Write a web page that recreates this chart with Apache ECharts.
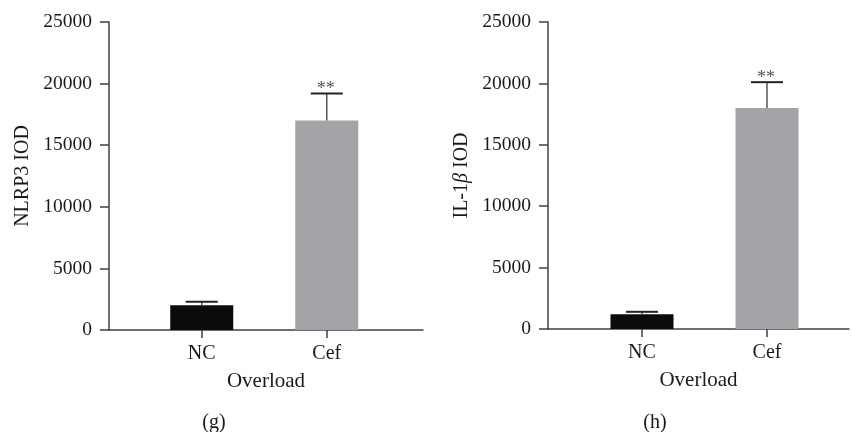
<!DOCTYPE html>
<html>
<head>
<meta charset="utf-8">
<script src="https://cdn.jsdelivr.net/npm/echarts@6/dist/echarts.min.js"></script>
<style>html,body{margin:0;padding:0;background:#fff}#c{width:852px;height:432px}</style>
</head>
<body>
<div id="c"></div>
<script>
const categories = ['NC', 'Cef'];
const nlrp3Mean = [2000, 17000];
const nlrp3ErrTop = [2300, 19200];
const il1bMean = [1200, 18000];
const il1bErrTop = [1400, 20100];
const significance = ['', '**'];
const yMin = 0, yMax = 25000, yStep = 5000;
const barColors = ['#0b0b0b', '#a4a3a7'];
const panelCaptions = ['(g)', '(h)'];

const FONT = 'Liberation Serif';
const chart = echarts.init(document.getElementById('c'), null, {renderer: 'canvas'});
const catIdx = categories.map((_, i) => i);

function xAxisFor(gi, min, max) {
  return {
    type: 'value', gridIndex: gi, min: min, max: max,
    name: 'Overload', nameLocation: 'middle', nameGap: 41,
    nameTextStyle: {fontFamily: FONT, fontSize: 21, color: '#1a1a1a'},
    axisLine: {show: true, onZero: false, lineStyle: {color: '#404040', width: 1.5}},
    axisTick: {show: true, length: 8, customValues: catIdx, lineStyle: {color: '#404040', width: 1.5}},
    axisLabel: {show: true, customValues: catIdx, margin: 14, fontFamily: FONT, fontSize: 20, color: '#1a1a1a',
      formatter: v => categories[Math.round(v)] || ''},
    splitLine: {show: false}
  };
}
function yAxisFor(gi, name) {
  return {
    type: 'value', gridIndex: gi, min: yMin, max: yMax, interval: yStep,
    name: name, nameLocation: 'middle', nameGap: 76,
    nameTextStyle: {fontFamily: FONT, fontSize: 20, color: '#1a1a1a',
      rich: {a: {fontFamily: FONT, fontSize: 20, color: '#1a1a1a'},
             b: {fontFamily: FONT, fontSize: 20, fontStyle: 'italic', color: '#1a1a1a'}}},
    axisLine: {show: true, onZero: false, lineStyle: {color: '#404040', width: 1.5}},
    axisTick: {show: true, length: 9, lineStyle: {color: '#404040', width: 1.5}},
    axisLabel: {margin: 17, fontFamily: FONT, fontSize: 19.5, color: '#1a1a1a', formatter: v => String(v)},
    splitLine: {show: false}
  };
}
function barSeries(gi, means) {
  return {
    type: 'bar', xAxisIndex: gi, yAxisIndex: gi, barWidth: 63, silent: true,
    data: means.map((v, i) => ({value: [i, v], itemStyle: {color: barColors[i]}}))
  };
}
function errSeries(gi, means, tops) {
  return {
    type: 'custom', xAxisIndex: gi, yAxisIndex: gi, silent: true, z: 5,
    data: means.map((v, i) => [i, v, tops[i]]),
    renderItem: function (params, api) {
      const base = api.coord([api.value(0), api.value(1)]);
      const top = api.coord([api.value(0), api.value(2)]);
      const half = 16;
      const children = [
        {type: 'line', shape: {x1: base[0], y1: base[1], x2: top[0], y2: top[1]}, style: {stroke: '#555', lineWidth: 1.5}},
        {type: 'line', shape: {x1: top[0] - half, y1: top[1], x2: top[0] + half, y2: top[1]}, style: {stroke: '#222', lineWidth: 2}}
      ];
      const s = significance[params.dataIndex];
      if (s) {
        children.push({type: 'text', x: top[0] - 1, y: top[1] + 5,
          style: {text: s, fontFamily: FONT, fontSize: 18, fill: '#555', align: 'center', verticalAlign: 'bottom'}});
      }
      return {type: 'group', children: children};
    }
  };
}

chart.setOption({
  animation: false,
  backgroundColor: '#ffffff',
  grid: [
    {left: 109, right: 429, top: 22, bottom: 102},
    {left: 548, right: 3, top: 22, bottom: 103}
  ],
  xAxis: [xAxisFor(0, -0.742, 1.77), xAxisFor(1, -0.752, 1.656)],
  yAxis: [yAxisFor(0, 'NLRP3 IOD'), yAxisFor(1, '{a|IL-1}{b|β}{a| IOD}')],
  graphic: [
    {type: 'text', x: 214, y: 423, style: {text: panelCaptions[0], fontFamily: FONT, fontSize: 20, fill: '#1a1a1a', align: 'center', verticalAlign: 'middle'}},
    {type: 'text', x: 655, y: 423, style: {text: panelCaptions[1], fontFamily: FONT, fontSize: 20, fill: '#1a1a1a', align: 'center', verticalAlign: 'middle'}}
  ],
  series: [
    barSeries(0, nlrp3Mean), errSeries(0, nlrp3Mean, nlrp3ErrTop),
    barSeries(1, il1bMean), errSeries(1, il1bMean, il1bErrTop)
  ]
});
</script>
</body>
</html>
